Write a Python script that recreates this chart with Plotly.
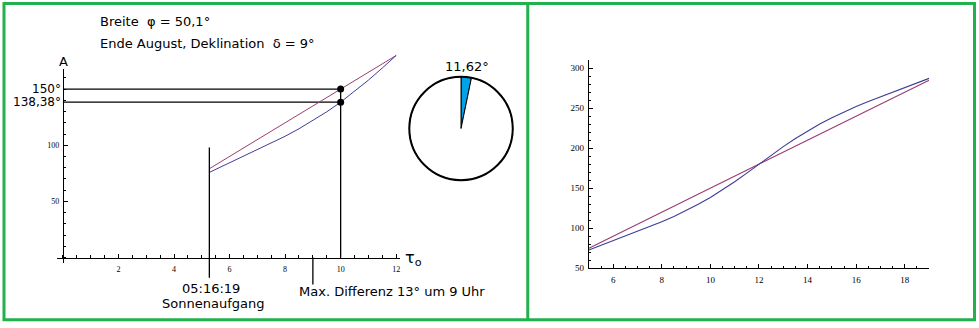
import plotly.graph_objects as go

# ---------------- data ----------------
# left chart (morning, from sunrise to noon)
sunrise_h = 5.272                      # 05:16:19
hours_left = [5.272, 5.5, 6, 6.5, 7, 7.5, 8, 8.5, 9, 9.5, 10, 10.5, 11, 11.5, 12]
azimuth_left = [75.8, 78.5, 84.2, 89.9, 95.7, 101.7, 108.0, 114.7, 121.9, 129.8,
                138.38, 147.8, 158.0, 168.8, 180.0]
hourangle_left = [79.1, 82.5, 90.0, 97.5, 105.0, 112.5, 120.0, 127.5, 135.0, 142.5,
                  150.0, 157.5, 165.0, 172.5, 180.0]

# right chart (whole day)
hours_right = [5, 5.5, 6, 6.5, 7, 7.5, 8, 8.5, 9, 9.5, 10, 10.5, 11, 11.5, 12,
               12.5, 13, 13.5, 14, 14.5, 15, 15.5, 16, 16.5, 17, 17.5, 18, 18.5, 19]
azimuth_right = [72.7, 78.5, 84.2, 89.9, 95.7, 101.7, 108.0, 114.7, 121.9, 129.8,
                 138.4, 147.8, 158.0, 168.8, 180.0, 191.2, 202.0, 212.2, 221.6, 230.2,
                 238.1, 245.3, 252.0, 258.3, 264.3, 270.1, 275.8, 281.5, 287.3]
hourangle_right = [75.0, 82.5, 90.0, 97.5, 105.0, 112.5, 120.0, 127.5, 135.0, 142.5,
                   150.0, 157.5, 165.0, 172.5, 180.0, 187.5, 195.0, 202.5, 210.0, 217.5,
                   225.0, 232.5, 240.0, 247.5, 255.0, 262.5, 270.0, 277.5, 285.0]

# marked values
mark_hour = 10
mark_hourangle = 150
mark_azimuth = 138.38
maxdiff_hour = 9
pie_values = [11.62, 360 - 11.62]

left_xticks = [2, 4, 6, 8, 10, 12]
left_yticks = [50, 100]
right_xticks = [6, 8, 10, 12, 14, 16, 18]
right_yticks = [50, 100, 150, 200, 250, 300]

# ---------------- layout helpers ----------------
W, H = 979, 328
BLUE = "rgb(61,61,153)"
RED = "rgb(153,61,113)"
GREEN = "rgb(34,177,76)"
TXT = "DejaVu Sans"
TICKF = dict(family="Liberation Serif", size=8, color="black")


def fx(p):
    return p / W


def fy(p):
    return 1 - p / H


# left scale: x=0 at 63px, 27.8 px/unit ; y=0 at 261.5px, 1.14 px/unit
LX0, LXS = 63.0, 27.8
LY0, LYS = 261.5, 1.14

fig = go.Figure()

guide = dict(color="black", width=1.3)

# guide lines inside the left axes (x/y)
fig.add_trace(go.Scatter(x=[0, mark_hour], y=[mark_hourangle, mark_hourangle], mode="lines",
                         line=guide, xaxis="x", yaxis="y"))
fig.add_trace(go.Scatter(x=[0, mark_hour], y=[mark_azimuth, mark_azimuth], mode="lines",
                         line=guide, xaxis="x", yaxis="y"))
fig.add_trace(go.Scatter(x=[mark_hour, mark_hour], y=[0, mark_hourangle], mode="lines",
                         line=guide, xaxis="x", yaxis="y"))

# left chart curves (overlay axes x3/y3 share the left chart's scale, wider area)
fig.add_trace(go.Scatter(x=hours_left, y=hourangle_left, mode="lines",
                         line=dict(color=RED, width=1), xaxis="x3", yaxis="y3"))
fig.add_trace(go.Scatter(x=hours_left, y=azimuth_left, mode="lines",
                         line=dict(color=BLUE, width=1), xaxis="x3", yaxis="y3"))

# guide lines reaching below the x axis
fig.add_trace(go.Scatter(x=[sunrise_h, sunrise_h], y=[-18, 98], mode="lines",
                         line=guide, xaxis="x3", yaxis="y3"))
fig.add_trace(go.Scatter(x=[maxdiff_hour, maxdiff_hour], y=[0, -24], mode="lines",
                         line=guide, xaxis="x3", yaxis="y3"))
fig.add_trace(go.Scatter(x=[mark_hour, mark_hour], y=[mark_hourangle, mark_azimuth],
                         mode="markers", marker=dict(color="black", size=7),
                         xaxis="x3", yaxis="y3"))

# right chart curves
fig.add_trace(go.Scatter(x=hours_right, y=hourangle_right, mode="lines",
                         line=dict(color=RED, width=1.1), xaxis="x2", yaxis="y2"))
fig.add_trace(go.Scatter(x=hours_right, y=azimuth_right, mode="lines",
                         line=dict(color=BLUE, width=1.1), xaxis="x2", yaxis="y2"))

# pie (difference angle)
pie_dom = dict(x=[fx(409), fx(514)], y=[fy(183), fy(78)])
fig.add_trace(go.Pie(values=pie_values, sort=False, direction="clockwise", rotation=0,
                     marker=dict(colors=["rgb(0,162,232)", "white"],
                                 line=dict(color="black", width=1)),
                     textinfo="none", hoverinfo="skip", showlegend=False, domain=pie_dom))
fig.add_trace(go.Pie(values=[1], marker=dict(colors=["rgba(0,0,0,0)"],
                                             line=dict(color="black", width=2)),
                     textinfo="none", hoverinfo="skip", showlegend=False, domain=pie_dom))

common_ax = dict(showgrid=False, zeroline=False, showline=True, linecolor="black",
                 linewidth=1, ticks="inside", ticklen=4, tickcolor="black",
                 tickfont=TICKF, fixedrange=True)

left_xr = [(57 - LX0) / LXS, (400 - LX0) / LXS]
left_yr = [(LY0 - 267.3) / LYS, (LY0 - 70) / LYS]

fig.update_layout(
    width=W, height=H, margin=dict(l=0, r=0, t=0, b=0),
    paper_bgcolor="white", plot_bgcolor="rgba(0,0,0,0)", showlegend=False,
    xaxis=dict(common_ax, domain=[fx(57), fx(400)], range=left_xr,
               anchor="free", position=fy(LY0), tickvals=left_xticks,
               ticklabelstandoff=4,
               minor=dict(ticks="inside", ticklen=2.5, tickcolor="black",
                          tickmode="linear", tick0=0, dtick=0.5)),
    yaxis=dict(common_ax, domain=[fy(267.3), fy(70)], range=left_yr,
               anchor="free", position=fx(LX0), tickvals=left_yticks,
               ticklabelstandoff=2,
               minor=dict(ticks="inside", ticklen=2.5, tickcolor="black",
                          tickmode="linear", tick0=0, dtick=10)),
    xaxis3=dict(domain=[0, fx(528)], range=[(0 - LX0) / LXS, (528 - LX0) / LXS],
                visible=False, anchor="y3", fixedrange=True),
    yaxis3=dict(domain=[fy(300), fy(40)], range=[(LY0 - 300) / LYS, (LY0 - 40) / LYS],
                visible=False, anchor="x3", fixedrange=True),
    xaxis2=dict(common_ax, domain=[fx(589.5), fx(930)], range=[5, 19], anchor="y2",
                tickvals=right_xticks, tickfont=dict(TICKF, size=9),
                ticklabelstandoff=3,
                minor=dict(ticks="inside", ticklen=2.5, tickcolor="black",
                           tickmode="linear", tick0=5, dtick=0.5)),
    yaxis2=dict(common_ax, domain=[fy(272.3), fy(60.5)], range=[50, 310.8], anchor="x2",
                tickvals=right_yticks, tickfont=dict(TICKF, size=9),
                ticklabelstandoff=2,
                minor=dict(ticks="inside", ticklen=2.5, tickcolor="black",
                           tickmode="linear", tick0=50, dtick=10)),
)

# borders
fig.add_shape(type="rect", xref="paper", yref="paper", x0=fx(4), x1=fx(975.5),
              y0=fy(324.8), y1=fy(3.5), line=dict(color=GREEN, width=3), layer="above")
fig.add_shape(type="line", xref="paper", yref="paper", x0=fx(528.3), x1=fx(528.3),
              y0=fy(324.8), y1=fy(3.5), line=dict(color=GREEN, width=3), layer="above")

f13 = dict(family=TXT, size=13, color="black")


def ann(text, x, y, xanchor="left", size=13, yref="paper"):
    fig.add_annotation(text=text, x=x, y=y, xref="paper", yref=yref, xanchor=xanchor,
                       yanchor="middle", showarrow=False, borderpad=0,
                       font=dict(f13, size=size))


ann("Breite  φ = 50,1°", fx(99), fy(21.5))
ann("Ende August, Deklination  δ = 9°", fx(99), fy(44))
ann("A", fx(63.5), fy(62), xanchor="center")
fig.add_annotation(text="150°", x=fx(62), y=mark_hourangle, xref="paper", yref="y3",
                   xanchor="right", yanchor="middle", showarrow=False, borderpad=0,
                   font=dict(f13, size=12))
fig.add_annotation(text="138,38°", x=fx(62), y=mark_azimuth, xref="paper", yref="y3",
                   xanchor="right", yanchor="middle", showarrow=False, borderpad=0,
                   font=dict(f13, size=12))
ann("τ<sub>o</sub>", fx(404), fy(263), size=16)
ann("05:16:19", fx(211), fy(293), xanchor="center")
ann("Sonnenaufgang", fx(213), fy(308), xanchor="center")
ann("Max. Differenz 13° um 9 Uhr", fx(298), fy(296))
ann("11,62°", fx(467), fy(68), xanchor="center")

fig.write_html("out.html", config=dict(displayModeBar=False, staticPlot=True))
